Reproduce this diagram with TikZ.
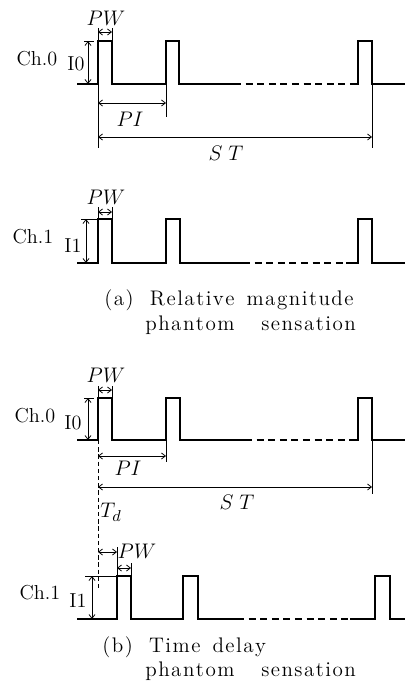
\documentclass[tikz,border=0pt]{standalone}
\usepackage{fontspec}
\usepackage{amsmath}
\usetikzlibrary{arrows.meta}
\makeatletter
\newcommand\spaced[1]{\@tfor\sp@ch:=#1\do{\sp@ch\kern.07em}}
\makeatother

\begin{document}
\begin{tikzpicture}[x=0.02cm,y=-0.02cm,
  wave/.style={line width=1.1pt},
  gap/.style={line width=1.1pt,dash pattern=on 4pt off 2.6pt},
  ext/.style={line width=0.45pt},
  dim/.style={ext,{Straight Barb[length=2.2pt,width=3.4pt]}-{Straight Barb[length=2.2pt,width=3.4pt]}},
  txt/.style={font=\fontsize{11.5}{13}\selectfont,inner sep=0pt},
  lbl/.style={font=\fontsize{12.5}{14}\selectfont,inner sep=0pt},
  captext/.style={font=\fontsize{12}{14}\selectfont,anchor=west,inner sep=0pt}]
  \useasboundingbox (0,0) rectangle (405,689);

  % (a) Ch.0
  \draw[wave] (77,84) -- (98,84) -- (98,41) -- (112,41) -- (112,84) -- (166,84) -- (166,41) -- (179,41) -- (179,84) -- (234,84);
  \draw[gap] (234,84) -- (352,84);
  \draw[wave] (352,84) -- (358,84) -- (358,41) -- (372,41) -- (372,84) -- (405,84);
  \draw[ext] (98,84) -- (98,148) (166,84) -- (166,117) (372,84) -- (372,148);
  \draw[ext] (98,41) -- (98,28) (112,41) -- (112,28) (84,41) -- (94,41);
  \draw[dim] (98,32) -- (112,32);
  \draw[dim] (88,41) -- (88,84);
  \draw[dim] (98,103) -- (166,103);
  \draw[dim] (98,137) -- (372,137);
  \node[txt] (ch0a) at (37,59) {Ch.0};
  \node[txt] (i0a) at (76,64) {I0};
  \node[lbl] (pw0a) at (106,18) {$PW$};
  \node[lbl] (pia) at (130,119) {$PI$};
  \node[lbl] (sta) at (226,153) {$S\;T$};

  % (a) Ch.1
  \draw[wave] (77,263) -- (98,263) -- (98,219) -- (112,219) -- (112,263) -- (166,263) -- (166,219) -- (180,219) -- (180,263) -- (243,263);
  \draw[gap] (243,263) -- (346,263);
  \draw[wave] (346,263) -- (358,263) -- (358,219) -- (372,219) -- (372,263) -- (405,263);
  \draw[ext] (98,219) -- (98,207) (112,219) -- (112,207) (81,219) -- (98,219);
  \draw[dim] (98,212) -- (112,212);
  \draw[dim] (86,219) -- (86,263);
  \node[txt] (ch1a) at (33,237) {Ch.1};
  \node[txt] (i1a) at (73,246) {I1};
  \node[lbl] (pw1a) at (106,197) {$PW$};
  \node[captext] (capa1) at (104,300) {\spaced{(a)}\hspace{.7em}\spaced{Relative}\hspace{.5em}\spaced{magnitude}};
  \node[captext] (capa2) at (145,325) {\spaced{phantom}\hspace{1.2em}\spaced{sensation}};

  % (b) Ch.0
  \draw[wave] (77,440) -- (98,440) -- (98,398) -- (112,398) -- (112,440) -- (166,440) -- (166,398) -- (180,398) -- (180,440) -- (245,440);
  \draw[gap] (245,440) -- (353,440);
  \draw[wave] (353,440) -- (358,440) -- (358,398) -- (372,398) -- (372,440) -- (405,440);
  \draw[ext,dash pattern=on 2.5pt off 1.6pt] (98,440) -- (98,588);
  \draw[ext] (166,440) -- (166,462) (372,440) -- (372,494);
  \draw[ext] (98,398) -- (98,386) (112,398) -- (112,386) (84,398) -- (94,398);
  \draw[dim] (98,390) -- (112,390);
  \draw[dim] (88,398) -- (88,440);
  \draw[dim] (98,456) -- (166,456);
  \draw[dim] (98,487) -- (372,487);
  \node[txt] (ch0b) at (35,416) {Ch.0};
  \node[txt] (i0b) at (73,423) {I0};
  \node[lbl] (pw0b) at (106,375) {$PW$};
  \node[lbl] (pib) at (128,468) {$PI$};
  \node[lbl] (stb) at (237,502) {$S\;T$};
  \node[lbl] (td) at (111,512) {$T_d$};

  % (b) Ch.1
  \draw[wave] (77,619) -- (117,619) -- (117,576) -- (131,576) -- (131,619) -- (183,619) -- (183,576) -- (198,576) -- (198,619) -- (237,619);
  \draw[gap] (237,619) -- (350,619);
  \draw[wave] (350,619) -- (375,619) -- (375,576) -- (390,576) -- (390,619) -- (405,619);
  \draw[ext] (85,576) -- (117,576) (117,576) -- (117,547) (131,576) -- (131,563);
  \draw[dim] (92,576) -- (92,619);
  \draw[dim] (98,552) -- (117,552);
  \draw[dim] (117,568) -- (131,568);
  \node[txt] (ch1b) at (40,593) {Ch.1};
  \node[txt] (i1b) at (78,601) {I1};
  \node[lbl] (pw1b) at (137,551) {$PW$};
  \node[captext] (capb1) at (102,647) {\spaced{(b)}\hspace{.7em}\spaced{Time}\hspace{.5em}\spaced{delay}};
  \node[captext] (capb2) at (145,671) {\spaced{phantom}\hspace{1.2em}\spaced{sensation}};
\end{tikzpicture}
\end{document}
